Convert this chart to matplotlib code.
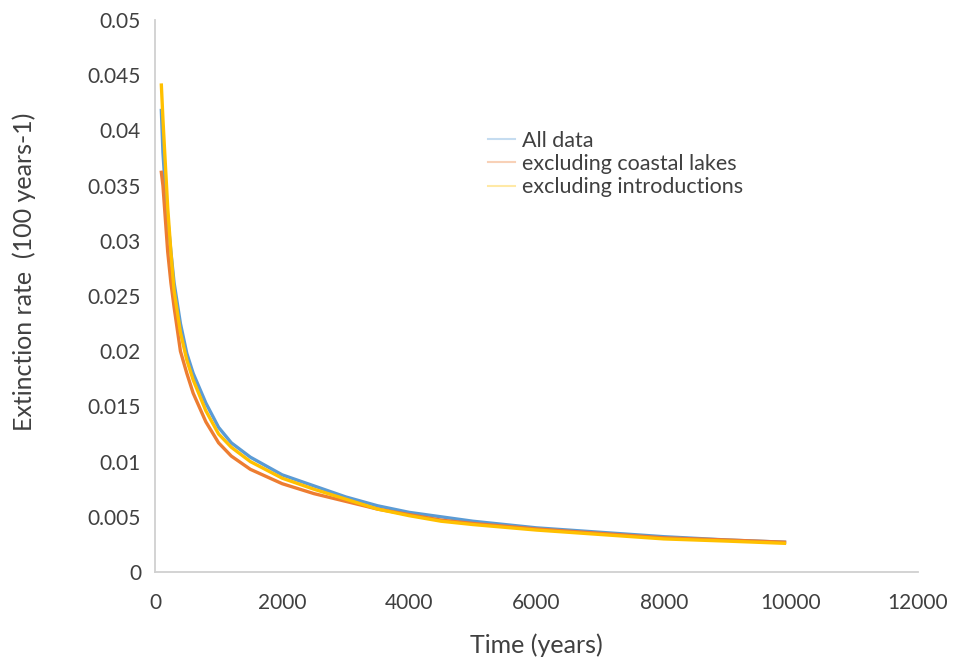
import matplotlib
matplotlib.use("Agg")
import matplotlib.pyplot as plt
from matplotlib.ticker import FuncFormatter, MultipleLocator

# values
time_years = [100, 125, 150, 200, 250, 300, 400, 500, 600, 800, 1000, 1200,
              1500, 2000, 2500, 3000, 3500, 4000, 4500, 5000, 6000, 7000,
              8000, 9000, 9900]
all_data = [0.0418, 0.0380, 0.0358, 0.0320, 0.0290, 0.0262, 0.0225, 0.0198,
            0.0180, 0.0153, 0.0131, 0.0117, 0.0104, 0.0088, 0.0078, 0.0068,
            0.0060, 0.0054, 0.0050, 0.0046, 0.0040, 0.0036, 0.0032, 0.0029,
            0.0027]
excl_coastal = [0.0362, 0.0350, 0.0330, 0.0290, 0.0262, 0.0240, 0.0200, 0.0180,
                0.0162, 0.0136, 0.0117, 0.0105, 0.0093, 0.0080, 0.0071, 0.0064,
                0.0057, 0.0052, 0.0047, 0.0044, 0.0039, 0.0035, 0.0031, 0.0029,
                0.0027]
excl_intro = [0.0441, 0.0410, 0.0383, 0.0330, 0.0290, 0.0255, 0.0217, 0.0192,
              0.0174, 0.0146, 0.0125, 0.0113, 0.0100, 0.0085, 0.0075, 0.0066,
              0.0057, 0.0051, 0.0046, 0.0043, 0.0038, 0.0034, 0.0030, 0.0028,
              0.0026]
series_labels = ["All data", "excluding coastal lakes", "excluding introductions"]

BLUE, ORANGE, YELLOW = "#5B9BD5", "#ED7D31", "#FFC000"
TEXT = "#404040"
plt.rcParams["font.family"] = ["Lato", "DejaVu Sans"]

fig = plt.figure(figsize=(9.55, 6.66), dpi=100)
ax = fig.add_axes([0.1623, 0.1411, 0.799, 0.829])

ax.plot(time_years, all_data, color=BLUE, lw=2.4, label=series_labels[0])
ax.plot(time_years, excl_coastal, color=ORANGE, lw=2.4, label=series_labels[1])
ax.plot(time_years, excl_intro, color=YELLOW, lw=2.4, label=series_labels[2])

ax.set_xlim(0, 12000)
ax.set_ylim(0, 0.05)
ax.xaxis.set_major_locator(MultipleLocator(2000))
ax.yaxis.set_major_locator(MultipleLocator(0.005))
ax.yaxis.set_major_formatter(FuncFormatter(lambda v, _: f"{v:g}"))
ax.tick_params(length=0, labelsize=15, colors=TEXT)
ax.tick_params(axis="x", pad=15)
ax.tick_params(axis="y", pad=10)

for side in ("top", "right"):
    ax.spines[side].set_visible(False)
for side in ("left", "bottom"):
    ax.spines[side].set_color("#d0d0d0")
    ax.spines[side].set_linewidth(1.3)

ax.set_xlabel("Time (years)", fontsize=18, color=TEXT)
ax.set_ylabel("Extinction rate  (100 years-1)", fontsize=18, color=TEXT)
ax.xaxis.set_label_coords(0.5, -0.112)
ax.yaxis.set_label_coords(-0.156, 0.543)

leg = ax.legend(loc="upper left", bbox_to_anchor=(0.511, 0.804),
                bbox_transform=fig.transFigure, frameon=False,
                fontsize=15.5, handlelength=1.25, handletextpad=0.33,
                labelspacing=0.16, borderpad=0, borderaxespad=0,
                labelcolor=TEXT)
for h in leg.legend_handles:
    h.set_alpha(0.35)
    h.set_linewidth(1.5)

fig.savefig("out.png", dpi=100)
